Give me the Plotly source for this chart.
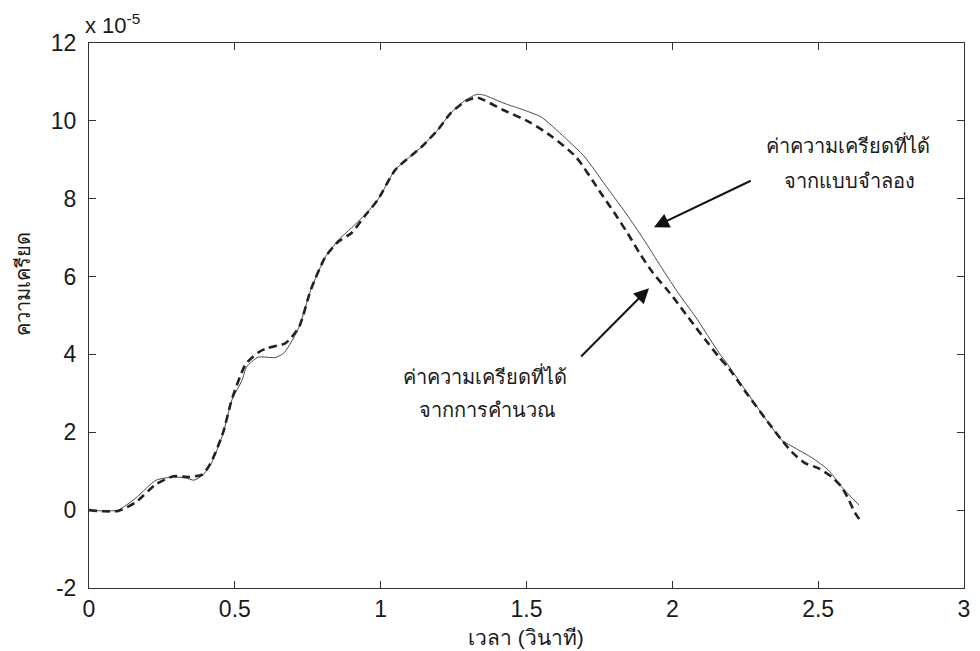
import plotly.graph_objects as go

# Strain vs time, values in units of 1e-5
time_model = [0, 0.05, 0.1, 0.16, 0.23, 0.29, 0.33, 0.36, 0.39, 0.42, 0.46, 0.49, 0.525,
              0.54, 0.58, 0.64, 0.67, 0.72, 0.76, 0.81, 0.855, 0.9, 0.945, 0.99, 1.05,
              1.14, 1.195, 1.24, 1.29, 1.33, 1.355, 1.42, 1.49, 1.55, 1.63, 1.70, 1.77,
              1.85, 1.91, 1.968, 2.02, 2.08, 2.16, 2.19, 2.26, 2.33, 2.375, 2.42, 2.48,
              2.535, 2.58, 2.64]
strain_model = [0, -0.02, 0.0, 0.31, 0.77, 0.85, 0.83, 0.77, 0.9, 1.21, 1.98, 2.83, 3.34,
                3.68, 3.93, 3.92, 4.05, 4.7, 5.65, 6.5, 6.94, 7.25, 7.58, 7.97, 8.74,
                9.33, 9.76, 10.2, 10.53, 10.68, 10.66, 10.46, 10.28, 10.1, 9.58, 9.07, 8.35,
                7.53, 6.86, 6.17, 5.58, 4.96, 4.04, 3.74, 2.98, 2.24, 1.8, 1.6, 1.34,
                1.03, 0.6, 0.13]

time_calc = [0, 0.05, 0.1, 0.16, 0.23, 0.29, 0.34, 0.39, 0.42, 0.46, 0.49, 0.537, 0.58,
             0.61, 0.674, 0.72, 0.76, 0.81, 0.855, 0.9, 0.945, 0.99, 1.05, 1.14, 1.195,
             1.24, 1.29, 1.33, 1.42, 1.51, 1.59, 1.67, 1.75, 1.80, 1.852, 1.886, 1.934,
             1.978, 2.01, 2.046, 2.08, 2.114, 2.16, 2.19, 2.25, 2.33, 2.375, 2.41, 2.455,
             2.5, 2.547, 2.58, 2.6, 2.625, 2.65]
strain_calc = [0, -0.03, -0.02, 0.2, 0.67, 0.87, 0.85, 0.92, 1.25, 2.0, 2.85, 3.75, 4.05,
               4.16, 4.29, 4.7, 5.65, 6.5, 6.9, 7.12, 7.55, 7.97, 8.74, 9.33, 9.76,
               10.2, 10.5, 10.6, 10.28, 9.97, 9.58, 9.07, 8.2, 7.65, 7.05, 6.62, 6.09,
               5.7, 5.4, 5.04, 4.7, 4.37, 3.93, 3.68, 3.05, 2.24, 1.8, 1.49, 1.21,
               1.08, 0.85, 0.6, 0.34, -0.05, -0.33]

x_ticks = [0, 0.5, 1, 1.5, 2, 2.5, 3]
y_ticks = [-2, 0, 2, 4, 6, 8, 10, 12]

label_model = ["ค่าความเครียดที่ได้", "จากแบบจำลอง"]
label_calc = ["ค่าความเครียดที่ได้", "จากการคำนวณ"]
x_title = "เวลา (วินาที)"
y_title = "ความเครียด"
exponent_label = "x 10<sup>-5</sup>"

FONT = "Liberation Sans, Arial, DejaVu Sans, Noto Sans, sans-serif"
INK = "#1a1a1a"
AX = "#333333"

fig = go.Figure()
fig.add_trace(go.Scatter(x=time_model, y=strain_model, mode="lines",
                         line=dict(color="#4a4a4a", width=1, shape="spline", smoothing=0.6),
                         showlegend=False, hoverinfo="skip"))
fig.add_trace(go.Scatter(x=time_calc, y=strain_calc, mode="lines",
                         line=dict(color="#222222", width=2.6, dash="8px,5px",
                                   shape="spline", smoothing=0.6),
                         showlegend=False, hoverinfo="skip"))

axis_common = dict(showgrid=False, zeroline=False, showline=True, mirror="ticks",
                   linecolor=AX, linewidth=1, ticks="inside", ticklen=7, tickcolor=AX,
                   tickfont=dict(family=FONT, size=23, color=INK))

fig.update_xaxes(range=[0, 3], tickvals=x_ticks, ticktext=[f"{v:g}" for v in x_ticks],
                 ticklabelstandoff=0, **axis_common)
fig.update_yaxes(range=[-2, 12], tickvals=y_ticks, ticktext=[str(v) for v in y_ticks],
                 ticklabelstandoff=7, **axis_common)

# Arrows pointing at each curve
arrow = dict(showarrow=True, arrowhead=2, arrowsize=1.5, arrowwidth=2,
             arrowcolor="#111111", text="", xref="x", yref="y", axref="x", ayref="y")
fig.add_annotation(x=1.937, y=7.27, ax=2.274, ay=8.48, **arrow)
fig.add_annotation(x=1.92, y=5.7, ax=1.682, ay=3.91, **arrow)

# Curve labels, one annotation per line
label_font = dict(family=FONT, size=20, color=INK)
for (lx, ly), txt in zip([(2.601, 9.40), (2.608, 8.45)], label_model):
    fig.add_annotation(x=lx, y=ly, text=txt, showarrow=False, font=label_font)
for (lx, ly), txt in zip([(1.359, 3.47), (1.365, 2.56)], label_calc):
    fig.add_annotation(x=lx, y=ly, text=txt, showarrow=False, font=label_font)

# Axis titles
fig.add_annotation(x=-0.076, y=0.556, xref="paper", yref="paper", xanchor="center",
                   yanchor="middle", text=y_title, textangle=-90, showarrow=False,
                   font=dict(family=FONT, size=20, color=INK))
fig.add_annotation(x=0.499, y=-0.09, xref="paper", yref="paper", xanchor="center",
                   yanchor="middle", text=x_title, showarrow=False,
                   font=dict(family=FONT, size=21, color=INK))

# Axis scale multiplier
fig.add_annotation(x=0, y=1, xref="paper", yref="paper", xanchor="left", yanchor="bottom",
                   xshift=-6, yshift=3, text=exponent_label, showarrow=False,
                   font=dict(family=FONT, size=22, color=INK))

fig.update_layout(width=980, height=651, margin=dict(l=89, r=10, t=43, b=63),
                  paper_bgcolor="white", plot_bgcolor="white")

fig.write_html("out.html")
